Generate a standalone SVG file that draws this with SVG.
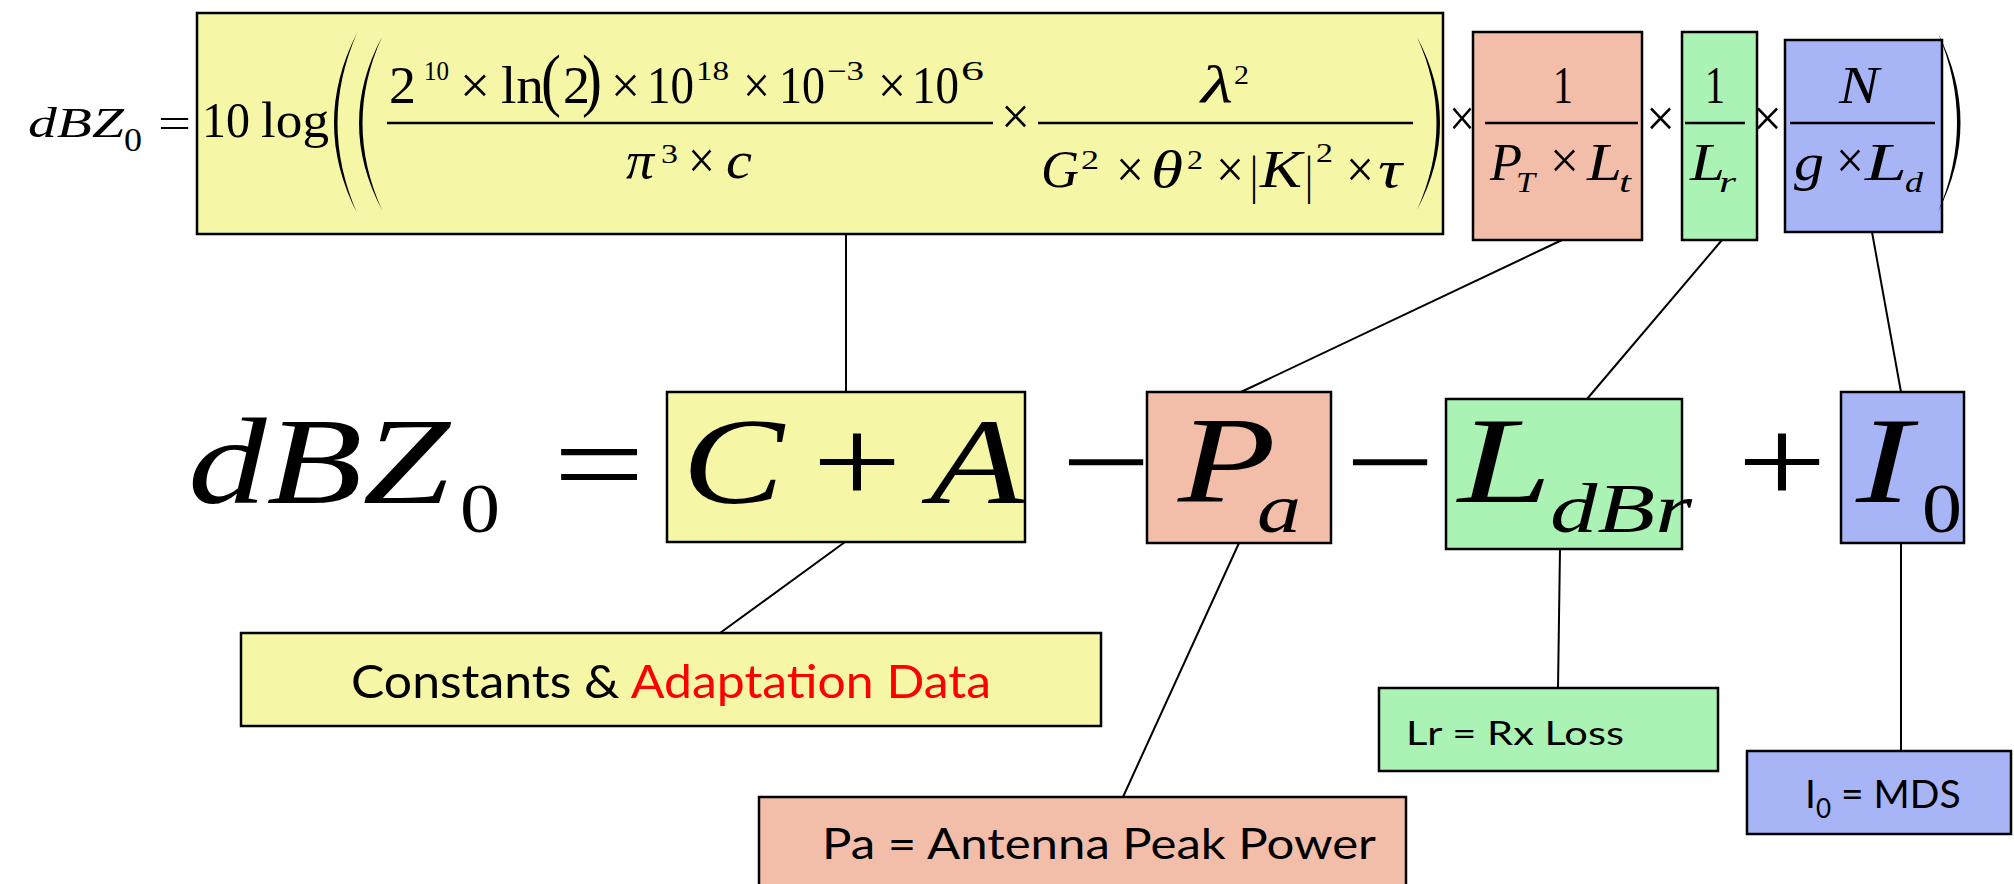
<svg xmlns="http://www.w3.org/2000/svg" width="2014" height="884" viewBox="0 0 2014 884">
<style>
.m{font-family:"Liberation Serif","Times New Roman",serif;fill:#000}
.i{font-style:italic}
.t{font-size:52px}
.sp{font-size:27px}
.sb{font-size:30px}
.big{font-size:122px}
.bs{font-size:70px}
.s{font-family:Lato,"Liberation Sans",sans-serif;fill:#000}
.box{stroke:#000;stroke-width:2.5}
.y{fill:#F5F6A6}.p{fill:#F2BEAA}.g{fill:#AAF3B4}.b{fill:#A7B4F6}
.ln{stroke:#000;stroke-width:2;fill:none}
.fr{stroke:#000;stroke-width:2.5}
.par{fill:#000;stroke:none}
</style>
<rect width="2014" height="884" fill="#fff"/>

<g id="connectors">
<line class="ln" x1="846" y1="234" x2="846" y2="392"/>
<line class="ln" x1="1562" y1="240" x2="1241" y2="392"/>
<line class="ln" x1="1722" y1="240" x2="1587" y2="399"/>
<line class="ln" x1="1872" y1="232" x2="1901" y2="392"/>
<line class="ln" x1="845" y1="542" x2="720" y2="633"/>
<line class="ln" x1="1239" y1="543" x2="1123" y2="797"/>
<line class="ln" x1="1560" y1="549" x2="1558" y2="688"/>
<line class="ln" x1="1901" y1="543" x2="1901" y2="751"/>
</g>

<g id="top-constants">
<rect class="box y" x="197" y="13" width="1246" height="221"/>
<g class="m t">
<text x="202" y="137" style="font-size:50px" textLength="48" lengthAdjust="spacingAndGlyphs">10</text>
<text x="261" y="137" style="font-size:50px" textLength="68" lengthAdjust="spacingAndGlyphs">log</text>
<text x="389" y="103" textLength="27" lengthAdjust="spacingAndGlyphs">2</text>
<text class="sp" x="424" y="80" textLength="25" lengthAdjust="spacingAndGlyphs">10</text>
<text x="460" y="103" textLength="30" lengthAdjust="spacingAndGlyphs">×</text>
<text x="501" y="103" textLength="43" lengthAdjust="spacingAndGlyphs">ln</text>
<text class="bs" x="541" y="103" textLength="20" lengthAdjust="spacingAndGlyphs">(</text>
<text x="563" y="103" textLength="27" lengthAdjust="spacingAndGlyphs">2</text>
<text class="bs" x="582" y="103" textLength="20" lengthAdjust="spacingAndGlyphs">)</text>
<text x="611" y="103" textLength="29" lengthAdjust="spacingAndGlyphs">×</text>
<text x="647" y="103" textLength="47" lengthAdjust="spacingAndGlyphs">10</text>
<text class="sp" x="696" y="80" textLength="33" lengthAdjust="spacingAndGlyphs">18</text>
<text x="743" y="103" textLength="27" lengthAdjust="spacingAndGlyphs">×</text>
<text x="779" y="103" textLength="46" lengthAdjust="spacingAndGlyphs">10</text>
<text class="sp" x="827" y="80" textLength="37" lengthAdjust="spacingAndGlyphs">−3</text>
<text x="878" y="103" textLength="28" lengthAdjust="spacingAndGlyphs">×</text>
<text x="912" y="103" textLength="47" lengthAdjust="spacingAndGlyphs">10</text>
<text class="sp" x="961" y="80" textLength="23" lengthAdjust="spacingAndGlyphs">6</text>
<text class="i" x="626" y="178" textLength="28" lengthAdjust="spacingAndGlyphs">π</text>
<text class="sp" x="661" y="163" textLength="17" lengthAdjust="spacingAndGlyphs">3</text>
<text x="688" y="178" textLength="27" lengthAdjust="spacingAndGlyphs">×</text>
<text class="i" x="726" y="178" textLength="26" lengthAdjust="spacingAndGlyphs">c</text>
<text x="1001" y="134" textLength="29" lengthAdjust="spacingAndGlyphs">×</text>
<text class="i" x="1201" y="102" textLength="32" lengthAdjust="spacingAndGlyphs">λ</text>
<text class="sp" x="1234" y="84" textLength="15" lengthAdjust="spacingAndGlyphs">2</text>
<text class="i" x="1041" y="187" textLength="38" lengthAdjust="spacingAndGlyphs">G</text>
<text class="sp" x="1081" y="169" textLength="18" lengthAdjust="spacingAndGlyphs">2</text>
<text x="1116" y="187" textLength="28" lengthAdjust="spacingAndGlyphs">×</text>
<text class="i" x="1151" y="187" textLength="32" lengthAdjust="spacingAndGlyphs">θ</text>
<text class="sp" x="1187" y="169" textLength="16" lengthAdjust="spacingAndGlyphs">2</text>
<text x="1216" y="187" textLength="28" lengthAdjust="spacingAndGlyphs">×</text>
<text x="1250" y="193" textLength="8" lengthAdjust="spacingAndGlyphs">|</text>
<text class="i" x="1260" y="187" textLength="42" lengthAdjust="spacingAndGlyphs">K</text>
<text x="1305" y="193" textLength="8" lengthAdjust="spacingAndGlyphs">|</text>
<text class="sp" x="1316" y="162" textLength="17" lengthAdjust="spacingAndGlyphs">2</text>
<text x="1346" y="187" textLength="28" lengthAdjust="spacingAndGlyphs">×</text>
<text class="i" x="1378" y="187" textLength="24" lengthAdjust="spacingAndGlyphs">τ</text>
</g>
<line class="fr" x1="387" y1="123" x2="993" y2="123"/>
<line class="fr" x1="1038" y1="123" x2="1413" y2="123"/>
<path class="par" d="M357 33 Q311 123 357 213 Q318 123 357 33 Z"/>
<path class="par" d="M382 37 Q336 123 382 210 Q343 123 382 37 Z"/>
<path class="par" d="M1417 37 Q1463 123 1417 210 Q1456 123 1417 37 Z"/>
</g>

<g id="top-power">
<rect class="box p" x="1473" y="32" width="169" height="208"/>
<g class="m t">
<text x="1553" y="103" textLength="20" lengthAdjust="spacingAndGlyphs">1</text>
<text class="i" x="1490" y="180" textLength="32" lengthAdjust="spacingAndGlyphs">P</text>
<text class="i sb" x="1516" y="192" textLength="19" lengthAdjust="spacingAndGlyphs">T</text>
<text x="1550" y="178" textLength="29" lengthAdjust="spacingAndGlyphs">×</text>
<text class="i" x="1587" y="180" textLength="35" lengthAdjust="spacingAndGlyphs">L</text>
<text class="i sb" x="1619" y="192" textLength="12" lengthAdjust="spacingAndGlyphs">t</text>
</g>
<line class="fr" x1="1485" y1="123" x2="1638" y2="123"/>
</g>

<g id="top-loss">
<rect class="box g" x="1682" y="32" width="75" height="208"/>
<g class="m t">
<text x="1705" y="103" textLength="20" lengthAdjust="spacingAndGlyphs">1</text>
<text class="i" x="1690" y="180" textLength="35" lengthAdjust="spacingAndGlyphs">L</text>
<text class="i sb" x="1719" y="192" textLength="17" lengthAdjust="spacingAndGlyphs">r</text>
</g>
<line class="fr" x1="1685" y1="123" x2="1745" y2="123"/>
</g>

<g id="top-noise">
<rect class="box b" x="1785" y="40" width="157" height="192"/>
<g class="m t">
<text class="i" x="1839" y="103" textLength="40" lengthAdjust="spacingAndGlyphs">N</text>
<text class="i" x="1794" y="180" textLength="30" lengthAdjust="spacingAndGlyphs">g</text>
<text x="1836" y="178" textLength="28" lengthAdjust="spacingAndGlyphs">×</text>
<text class="i" x="1865" y="180" textLength="42" lengthAdjust="spacingAndGlyphs">L</text>
<text class="i sb" x="1905" y="192" textLength="18" lengthAdjust="spacingAndGlyphs">d</text>
</g>
<line class="fr" x1="1790" y1="123" x2="1935" y2="123"/>
<path class="par" d="M1938 33 Q1983 123 1938 212 Q1976 123 1938 33 Z"/>
</g>

<g id="mid-ca">
<rect class="box y" x="667" y="392" width="358" height="150"/>
</g>
<g id="mid-pa">
<rect class="box p" x="1147" y="392" width="184" height="151"/>
</g>
<g id="mid-ldbr">
<rect class="box g" x="1446" y="399" width="236" height="150"/>
</g>
<g id="mid-i0">
<rect class="box b" x="1841" y="392" width="123" height="151"/>
</g>

<g id="free-text" class="m">
<text class="i" x="28" y="137" style="font-size:42px" textLength="96" lengthAdjust="spacingAndGlyphs">dBZ</text>
<text x="124" y="151" style="font-size:34px" textLength="18" lengthAdjust="spacingAndGlyphs">0</text>
<text x="158" y="137" style="font-size:42px" textLength="33" lengthAdjust="spacingAndGlyphs">=</text>
<text class="t" x="1449" y="136" textLength="26" lengthAdjust="spacingAndGlyphs">×</text>
<text class="t" x="1646" y="136" textLength="29" lengthAdjust="spacingAndGlyphs">×</text>
<text class="t" x="1753" y="136" textLength="29" lengthAdjust="spacingAndGlyphs">×</text>
<text class="i big" x="188" y="503" textLength="262" lengthAdjust="spacingAndGlyphs">dBZ</text>
<text class="bs" x="460" y="532" textLength="40" lengthAdjust="spacingAndGlyphs">0</text>
<text class="big" x="553" y="505" textLength="92" lengthAdjust="spacingAndGlyphs">=</text>
<text class="i big" x="682" y="503" textLength="102" lengthAdjust="spacingAndGlyphs">C</text>
<text class="big" x="812" y="503" textLength="90" lengthAdjust="spacingAndGlyphs">+</text>
<text class="i big" x="930" y="503" textLength="94" lengthAdjust="spacingAndGlyphs">A</text>
<text class="big" x="1061" y="503" textLength="90" lengthAdjust="spacingAndGlyphs">−</text>
<text class="i big" x="1178" y="502" textLength="98" lengthAdjust="spacingAndGlyphs">P</text>
<text class="i bs" x="1257" y="532" textLength="44" lengthAdjust="spacingAndGlyphs">a</text>
<text class="big" x="1345" y="503" textLength="90" lengthAdjust="spacingAndGlyphs">−</text>
<text class="i big" x="1458" y="502" textLength="94" lengthAdjust="spacingAndGlyphs">L</text>
<text class="i bs" x="1550" y="532" textLength="142" lengthAdjust="spacingAndGlyphs">dBr</text>
<text class="big" x="1737" y="503" textLength="90" lengthAdjust="spacingAndGlyphs">+</text>
<text class="i big" x="1856" y="502" textLength="56" lengthAdjust="spacingAndGlyphs">I</text>
<text class="bs" x="1922" y="532" textLength="40" lengthAdjust="spacingAndGlyphs">0</text>
</g>

<g id="label-constants">
<rect class="box y" x="241" y="633" width="860" height="93"/>
<text class="s" x="351" y="698" style="font-size:47px" textLength="640" lengthAdjust="spacingAndGlyphs">Constants &amp; <tspan fill="#FF0000">Adaptation Data</tspan></text>
</g>
<g id="label-pa">
<rect class="box p" x="759" y="797" width="647" height="95"/>
<text class="s" x="822" y="859" style="font-size:43px" textLength="554" lengthAdjust="spacingAndGlyphs">Pa = Antenna Peak Power</text>
</g>
<g id="label-lr">
<rect class="box g" x="1379" y="688" width="339" height="83"/>
<text class="s" x="1406" y="745" style="font-size:32px" textLength="218" lengthAdjust="spacingAndGlyphs">Lr = Rx Loss</text>
</g>
<g id="label-i0">
<rect class="box b" x="1747" y="751" width="264" height="83"/>
<text class="s" x="1805" y="808" style="font-size:39px">I<tspan dy="10" style="font-size:26px">0</tspan><tspan dy="-10"> = MDS</tspan></text>
</g>
</svg>
